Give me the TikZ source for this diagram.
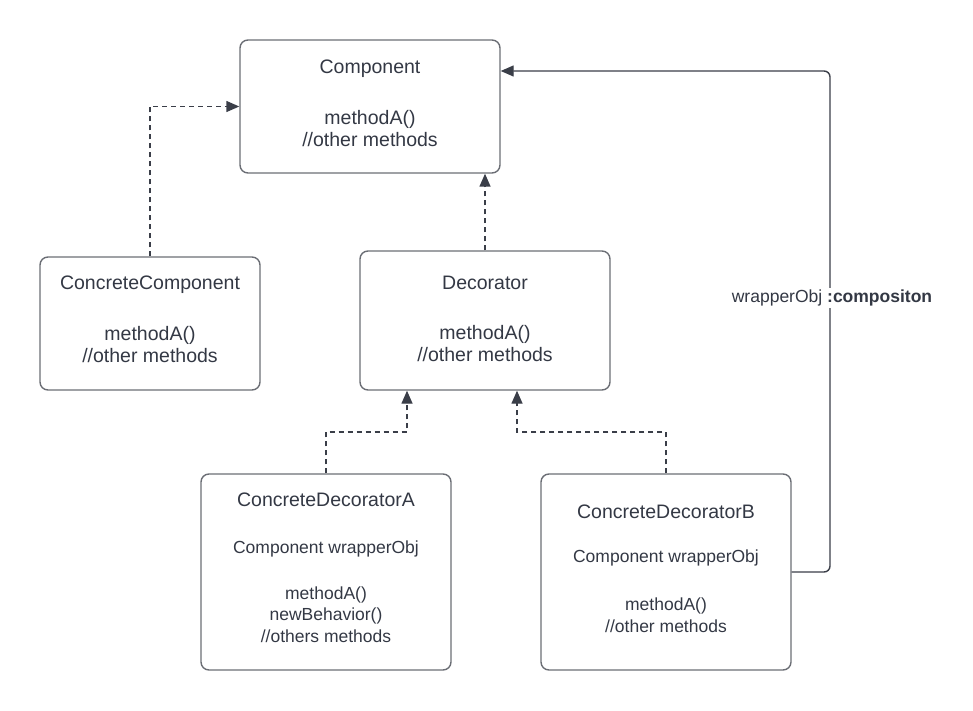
\documentclass[tikz,border=0pt]{standalone}
\usepackage{fontspec}
\setmainfont{Liberation Sans}
\usetikzlibrary{arrows.meta,calc}
\definecolor{boxline}{HTML}{6B6E75}
\definecolor{conn}{HTML}{3A3E48}
\definecolor{txt}{HTML}{333844}
\tikzset{
  umlbox/.style={draw=boxline, line width=1.4pt, rounded corners=8pt, rectangle, inner sep=0pt},
  titletext/.style={text=txt, font=\fontsize{19.5}{22}\selectfont, inner sep=0pt, align=center},
  bigtext/.style={text=txt, font=\fontsize{19.5}{22}\selectfont, inner sep=0pt, align=center},
  smalltext/.style={text=txt, font=\fontsize{17.5}{21.5}\selectfont, inner sep=0pt, align=center},
  dashconn/.style={draw=conn, line width=1.4pt, dash pattern=on 5pt off 4pt, -{Triangle[length=13pt,width=11pt]}},
  solidconn/.style={draw=conn, line width=1.4pt, rounded corners=6pt, -{Triangle[length=13pt,width=11pt]}},
  lbltext/.style={text=txt, font=\fontsize{17.5}{21}\selectfont, fill=white, inner sep=2pt}
}
\begin{document}
\begin{tikzpicture}[x=1pt,y=-1pt]
\useasboundingbox (0,0) rectangle (973,711);
% boxes
\node[umlbox, minimum width=260pt, minimum height=133pt] (comp) at (370,106.5) {};
\node[umlbox, minimum width=220pt, minimum height=133pt] (cc) at (150,323.5) {};
\node[umlbox, minimum width=250pt, minimum height=139pt] (dec) at (485,320.5) {};
\node[umlbox, minimum width=250pt, minimum height=196pt] (cda) at (326,572) {};
\node[umlbox, minimum width=250pt, minimum height=196pt] (cdb) at (666,572) {};
% texts
\node[titletext] (compt) at (370,69) {Component};
\node[bigtext] (compm) at (370,129) {methodA()\\//other methods};
\node[titletext] (cct) at (150,285) {ConcreteComponent};
\node[bigtext] (ccm) at (150,345) {methodA()\\//other methods};
\node[titletext] (dect) at (485,283) {Decorator};
\node[bigtext] (decm) at (485,344) {methodA()\\//other methods};
\node[titletext] (cdat) at (326,500) {ConcreteDecoratorA};
\node[smalltext] (cdaw) at (326,549) {Component wrapperObj};
\node[smalltext] (cdam) at (326,614.5) {methodA()\\newBehavior()\\//others methods};
\node[titletext] (cdbt) at (666,512) {ConcreteDecoratorB};
\node[smalltext] (cdbw) at (666,558) {Component wrapperObj};
\node[smalltext] (cdbm) at (666,615) {methodA()\\//other methods};
% connectors
\coordinate (ja) at (407,432);
\coordinate (jb) at (517,432);
\coordinate (cb) at (830,572);
\coordinate (ct) at (830,71);
\draw[dashconn] (cc.north) |- (comp.west);
\draw[dashconn] (dec.north) -- (dec.north |- comp.south);
\draw[dashconn] (cda.north) |- (ja) -- (ja |- dec.south);
\draw[dashconn] (cdb.north) |- (jb) -- (jb |- dec.south);
\draw[solidconn] (cdb.east) -- (cb) -- (ct) -- (ct -| comp.east);
\node[lbltext] (lbl) at (832,298) {wrapperObj \textbf{:compositon}};
\end{tikzpicture}
\end{document}
